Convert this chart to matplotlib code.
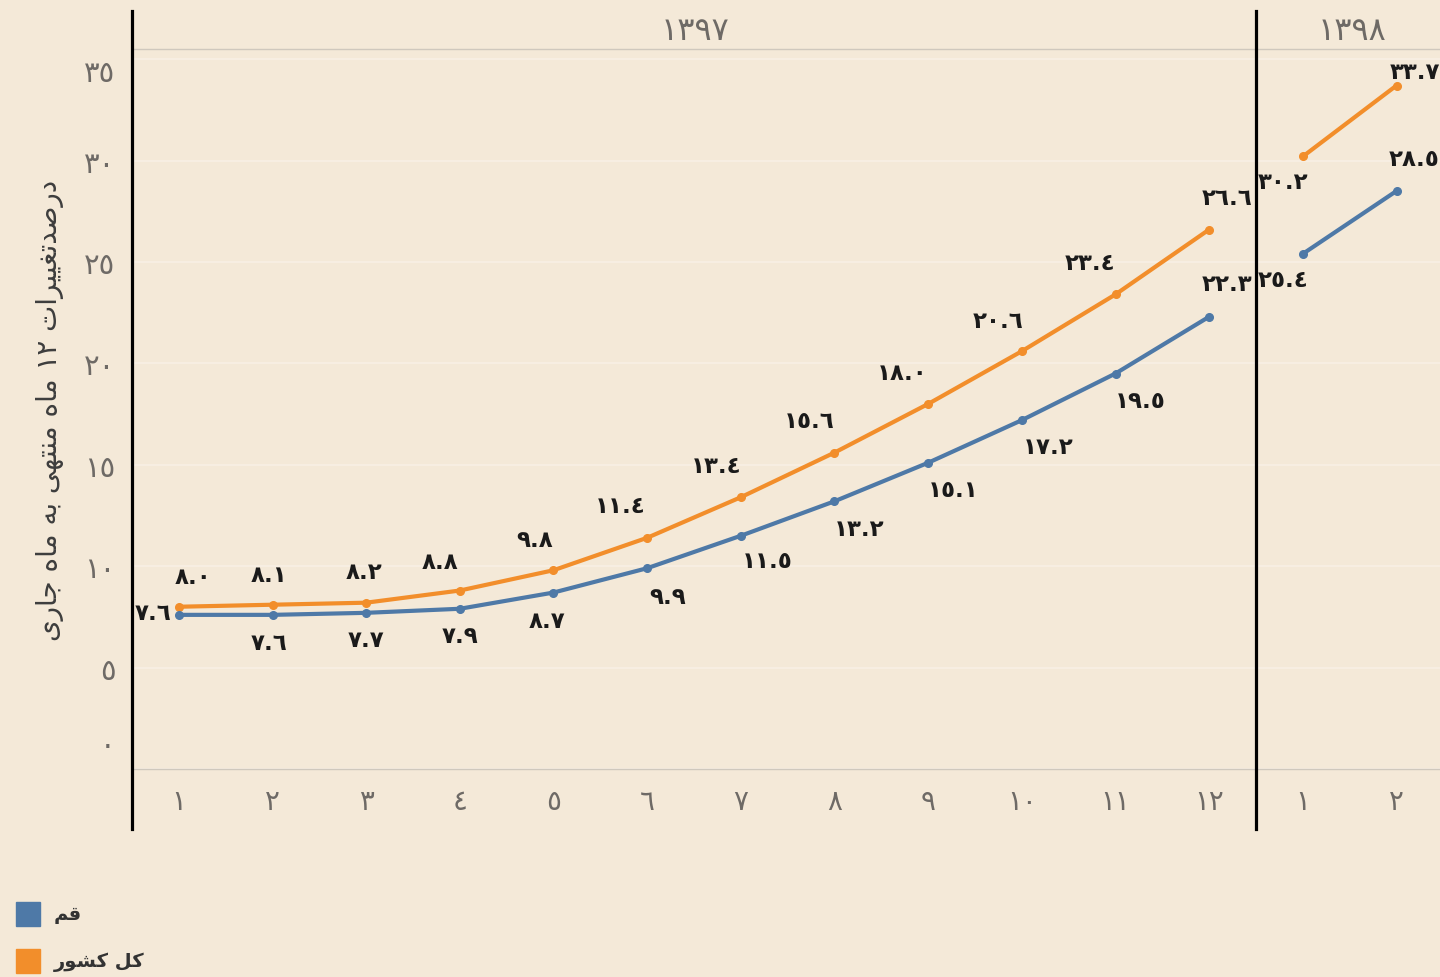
import re
import matplotlib
matplotlib.use('Agg')
import matplotlib.pyplot as plt
from matplotlib.lines import Line2D
from matplotlib.patches import Rectangle
from matplotlib.transforms import ScaledTranslation

plt.rcParams['font.family'] = ['DejaVu Sans']

# data
months_1397 = [1, 2, 3, 4, 5, 6, 7, 8, 9, 10, 11, 12]
months_1398 = [1, 2]
country_1397 = [8.0, 8.1, 8.2, 8.8, 9.8, 11.4, 13.4, 15.6, 18.0, 20.6, 23.4, 26.6]
country_1398 = [30.2, 33.7]
qom_1397 = [7.6, 7.6, 7.7, 7.9, 8.7, 9.9, 11.5, 13.2, 15.1, 17.2, 19.5, 22.3]
qom_1398 = [25.4, 28.5]
years = ['1397', '1398']
y_ticks = [0, 5, 10, 15, 20, 25, 30, 35]
y_title = 'درصدتغییرات 12 ماه منتهی به ماه جاری'
series_names = ['قم', 'کل کشور']

# label offsets in pixels (layout only)
country_off_1397 = [(14, 30), (-3, 30), (-2, 31), (-20, 29), (-19, 31), (-27, 32),
                    (-25, 32), (-25, 32), (-26, 31), (-24, 31), (-25, 32), (18, 32)]
country_off_1398 = [(-20, -25), (18, 14)]
qom_off_1397 = [(-26, 2), (-3, -28), (0, -27), (0, -27), (-6, -28), (20, -28),
                (26, -25), (25, -27), (25, -27), (26, -26), (25, -27), (18, 33)]
qom_off_1398 = [(-20, -26), (18, 32)]

BG = '#F4E9D8'
BLUE = '#4E79A7'
ORANGE = '#F28E2B'
GRAY = '#6E6A66'

# --- minimal arabic/persian shaping (matplotlib has no bidi) ---
FORMS = {
    'ا': ('\uFE8D', '\uFE8E'), 'د': ('\uFEA9', '\uFEAA'), 'ر': ('\uFEAD', '\uFEAE'),
    'و': ('\uFEED', '\uFEEE'),
    'ب': ('\uFE8F', '\uFE90', '\uFE91', '\uFE92'), 'ت': ('\uFE95', '\uFE96', '\uFE97', '\uFE98'),
    'ج': ('\uFE9D', '\uFE9E', '\uFE9F', '\uFEA0'), 'ش': ('\uFEB5', '\uFEB6', '\uFEB7', '\uFEB8'),
    'ص': ('\uFEB9', '\uFEBA', '\uFEBB', '\uFEBC'), 'غ': ('\uFECD', '\uFECE', '\uFECF', '\uFED0'),
    'ق': ('\uFED5', '\uFED6', '\uFED7', '\uFED8'), 'ک': ('\uFB8E', '\uFB8F', '\uFB90', '\uFB91'),
    'ل': ('\uFEDD', '\uFEDE', '\uFEDF', '\uFEE0'), 'م': ('\uFEE1', '\uFEE2', '\uFEE3', '\uFEE4'),
    'ن': ('\uFEE5', '\uFEE6', '\uFEE7', '\uFEE8'), 'ه': ('\uFEE9', '\uFEEA', '\uFEEB', '\uFEEC'),
    'ی': ('\uFBFC', '\uFBFD', '\uFBFE', '\uFBFF'),
}
DIGITS = str.maketrans('0123456789', '\u0660\u0661\u0662\u0663\u0664\u0665\u0666\u0667\u0668\u0669')


def fa(s):
    s = s.translate(DIGITS)
    out = []
    for i, c in enumerate(s):
        if c not in FORMS:
            out.append(c)
            continue
        prev = s[i - 1] if i > 0 else ''
        nxt = s[i + 1] if i + 1 < len(s) else ''
        f = FORMS[c]
        jp = prev in FORMS and len(FORMS[prev]) == 4
        jn = nxt in FORMS and len(f) == 4
        if jp and jn:
            out.append(f[3])
        elif jp:
            out.append(f[1])
        elif jn:
            out.append(f[2])
        else:
            out.append(f[0])
    s = ''.join(out)
    tokens = re.findall(r'[\u0660-\u0669.]+|.', s)
    return ''.join(tokens[::-1])


def num(v):
    return ('%.1f' % v).translate(DIGITS)


W, H = 1440, 978
fig = plt.figure(figsize=(W / 100, H / 100), dpi=100, facecolor=BG)

top, bot = 50, 770
band = (1256 - 132) / 12
ax1 = fig.add_axes([132 / W, 1 - bot / H, 12 * band / W, (bot - top) / H])
ax2 = fig.add_axes([1256 / W, 1 - bot / H, 2 * band / W, (bot - top) / H])

panes = [
    (ax1, months_1397, country_1397, qom_1397, country_off_1397, qom_off_1397),
    (ax2, months_1398, country_1398, qom_1398, country_off_1398, qom_off_1398),
]
for ax, months, country, qom, coff, qoff in panes:
    ax.set_facecolor(BG)
    ax.set_xlim(months[0] - 0.5, months[-1] + 0.5)
    ax.set_ylim(0, 35.5)
    ax.set_yticks(y_ticks)
    ax.grid(axis='y', color='#F8F0E5', lw=1.2)
    ax.set_axisbelow(True)
    for sp in ['left', 'right', 'top']:
        ax.spines[sp].set_visible(False)
    ax.spines['bottom'].set_color('#CFC8BD')
    ax.spines['bottom'].set_linewidth(1)
    ax.set_xticks(months)
    ax.set_xticklabels([str(m).translate(DIGITS) for m in months], fontsize=20, color=GRAY)
    ax.tick_params(length=0, pad=13)
    ax.plot(months, country, color=ORANGE, lw=3, marker='o', ms=5.5, zorder=3)
    ax.plot(months, qom, color=BLUE, lw=3, marker='o', ms=5.5, zorder=3)
    for m, v, o in zip(months, country, coff):
        ax.annotate(num(v), (m, v), xytext=o, textcoords='offset pixels', ha='center',
                    va='center', fontsize=16.5, fontweight='bold', color='#1a1a1a',
                    annotation_clip=False, zorder=4)
    for m, v, o in zip(months, qom, qoff):
        ax.annotate(num(v), (m, v), xytext=o, textcoords='offset pixels', ha='center',
                    va='center', fontsize=16.5, fontweight='bold', color='#1a1a1a',
                    annotation_clip=False, zorder=4)

ax1.set_yticklabels([str(t).translate(DIGITS) for t in y_ticks], fontsize=21, color=GRAY)
ax1.tick_params(axis='y', pad=12)
lbls = ax1.get_yticklabels()
lbls[0].set_transform(lbls[0].get_transform() + ScaledTranslation(0, 0.27, fig.dpi_scale_trans))
lbls[-1].set_transform(lbls[-1].get_transform() + ScaledTranslation(0, -0.11, fig.dpi_scale_trans))
ax2.tick_params(axis='y', labelleft=False)

fig.text(50 / W, 1 - 410 / H, fa(y_title), rotation=90, ha='center', va='center',
         fontsize=20, color='#3d3d3d')

# header
fig.text(695 / W, 1 - 32 / H, years[0].translate(DIGITS), ha='center', va='center',
         fontsize=23, color=GRAY)
fig.text(1352 / W, 1 - 32 / H, years[1].translate(DIGITS), ha='center', va='center',
         fontsize=23, color=GRAY)
fig.add_artist(Line2D([132 / W, 1], [1 - top / H, 1 - top / H], color='#CFC8BD', lw=1))
for xp in [132, 1256]:
    fig.add_artist(Line2D([xp / W, xp / W], [1 - 12 / H, 1 - 830 / H], color='black', lw=2.3))

# legend
for i, (name, col) in enumerate(zip(series_names, [BLUE, ORANGE])):
    yc = 915 + i * 47
    fig.add_artist(Rectangle((16 / W, 1 - (yc + 12) / H), 24 / W, 24 / H, color=col,
                             transform=fig.transFigure))
    fig.text(54 / W, 1 - yc / H, fa(name), ha='left', va='center', fontsize=14,
             fontweight='bold', color='#333333')

fig.savefig('out.png', dpi=100, facecolor=BG)
